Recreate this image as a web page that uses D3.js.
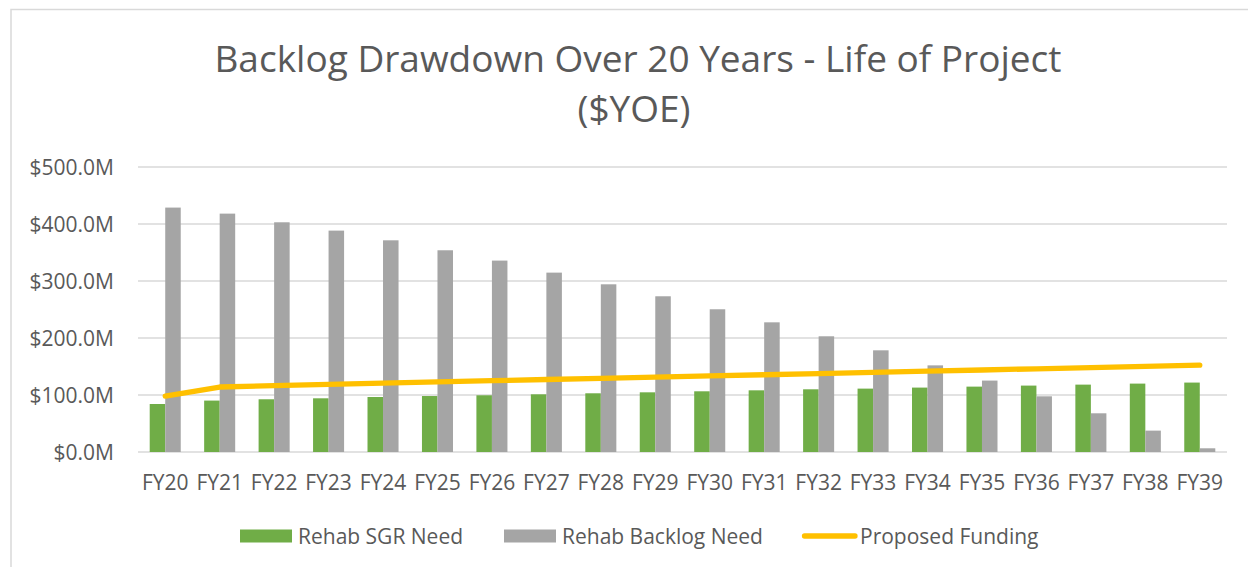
<!DOCTYPE html>
<meta charset="utf-8">
<html lang="en">
<head>
    <title>Backlog Drawdown Over 20 Years</title>
    <script src="https://d3js.org/d3.v7.min.js"></script>
    <style>
        body {
            margin: 0;
            background-color: #fff;
            font-family: "Open Sans", sans-serif;
        }
        .tick-label, .legend text {
            font-size: 21px;
            fill: #595959;
        }
        .title {
            font-size: 37px;
            font-weight: 400;
            fill: #595959;
        }
    </style>
</head>
<body>
    <svg width="1248" height="567"></svg>
    <script>
        // Data
        var years = ["FY20", "FY21", "FY22", "FY23", "FY24", "FY25", "FY26", "FY27", "FY28", "FY29",
                     "FY30", "FY31", "FY32", "FY33", "FY34", "FY35", "FY36", "FY37", "FY38", "FY39"];
        var sgrNeed = [84.2, 90.2, 92.5, 94.2, 96.5, 98.2, 99.5, 101.2, 103.0, 104.7,
                       106.5, 108.2, 110.0, 111.2, 113.0, 114.7, 116.5, 118.2, 120.0, 121.8];
        var backlogNeed = [428.8, 418.2, 403.0, 388.4, 371.4, 353.9, 335.8, 314.7, 294.2, 273.2,
                           250.4, 227.5, 203.0, 178.4, 152.0, 125.3, 97.7, 67.9, 37.5, 6.5];
        var funding = [98.0, 114.0, 116.5, 118.8, 121.0, 123.1, 125.1, 127.2, 129.3, 131.3,
                       133.4, 135.5, 137.6, 139.7, 141.8, 143.9, 146.0, 148.1, 150.3, 152.5];
        var yTicks = [0, 100, 200, 300, 400, 500];
        var seriesNames = ["Rehab SGR Need", "Rehab Backlog Need", "Proposed Funding"];

        var svg = d3.select("svg"),
            margin = {top: 167, right: 21, bottom: 115, left: 138},
            width = +svg.attr("width") - margin.left - margin.right,
            height = +svg.attr("height") - margin.top - margin.bottom,
            g = svg.append("g").attr("transform", "translate(" + margin.left + "," + margin.top + ")");

        // chart border (only top/left visible in the shot)
        svg.append("rect")
            .attr("x", 11).attr("y", 9.5)
            .attr("width", 1300).attr("height", 600)
            .attr("fill", "none")
            .attr("stroke", "#D9D9D9")
            .attr("stroke-width", 1.5);

        // Title
        svg.append("text")
            .attr("class", "title")
            .attr("x", 638).attr("y", 72)
            .attr("text-anchor", "middle")
            .text("Backlog Drawdown Over 20 Years - Life of Project");
        svg.append("text")
            .attr("class", "title")
            .attr("x", 634).attr("y", 122)
            .attr("text-anchor", "middle")
            .text("($YOE)");

        var x0 = d3.scaleBand().domain(years).range([0, width]);
        var groupW = x0.bandwidth() * 0.57;
        var x1 = d3.scaleBand().domain([0, 1]).range([0, groupW]);
        var y = d3.scaleLinear().domain([0, 500]).range([height, 0]);
        var colors = ["#70AD47", "#A5A5A5", "#FFC000"];

        // gridlines
        g.append("g")
            .selectAll("line")
            .data(yTicks)
            .enter().append("line")
            .attr("x1", 0).attr("x2", width)
            .attr("y1", function(d) { return y(d); })
            .attr("y2", function(d) { return y(d); })
            .attr("stroke", "#D9D9D9")
            .attr("stroke-width", 1.5);

        // y labels
        g.append("g")
            .selectAll("text")
            .data(yTicks)
            .enter().append("text")
            .attr("class", "tick-label")
            .attr("x", -24)
            .attr("y", function(d) { return y(d); })
            .attr("dy", "0.36em")
            .attr("text-anchor", "end")
            .text(function(d) { return "$" + d.toFixed(1) + "M"; });

        // x labels
        g.append("g")
            .selectAll("text")
            .data(years)
            .enter().append("text")
            .attr("class", "tick-label")
            .attr("x", function(d) { return x0(d) + x0.bandwidth() / 2; })
            .attr("y", height + 30)
            .attr("dy", "0.36em")
            .attr("text-anchor", "middle")
            .text(function(d) { return d; });

        // bars
        var groups = g.append("g")
            .selectAll("g")
            .data(years)
            .enter().append("g")
            .attr("transform", function(d) {
                return "translate(" + (x0(d) + (x0.bandwidth() - groupW) / 2) + ",0)";
            });

        groups.selectAll("rect")
            .data(function(d, i) { return [sgrNeed[i], backlogNeed[i]]; })
            .enter().append("rect")
            .attr("x", function(d, j) { return x1(j); })
            .attr("y", function(d) { return y(d); })
            .attr("width", x1.bandwidth())
            .attr("height", function(d) { return height - y(d); })
            .attr("fill", function(d, j) { return colors[j]; });

        // funding line
        var line = d3.line()
            .x(function(d, i) { return x0(years[i]) + x0.bandwidth() / 2; })
            .y(function(d) { return y(d); });

        g.append("path")
            .datum(funding)
            .attr("d", line)
            .attr("fill", "none")
            .attr("stroke", colors[2])
            .attr("stroke-width", 5.3)
            .attr("stroke-linecap", "round")
            .attr("stroke-linejoin", "round");

        // Legend
        var legendX = [240, 504, 802];
        var legend = svg.append("g")
            .attr("class", "legend")
            .selectAll("g")
            .data(seriesNames)
            .enter().append("g")
            .attr("transform", function(d, i) { return "translate(" + legendX[i] + ",536)"; });

        legend.filter(function(d, i) { return i < 2; })
            .append("rect")
            .attr("y", -6.5)
            .attr("width", 52)
            .attr("height", 13)
            .attr("fill", function(d, i) { return colors[i]; });

        legend.filter(function(d, i) { return i === 2; })
            .append("line")
            .attr("x1", 2.5).attr("x2", 53)
            .attr("stroke", colors[2])
            .attr("stroke-width", 5.3)
            .attr("stroke-linecap", "round");

        legend.append("text")
            .attr("x", 58)
            .attr("dy", "0.36em")
            .text(function(d) { return d; });
    </script>
</body>
</html>
